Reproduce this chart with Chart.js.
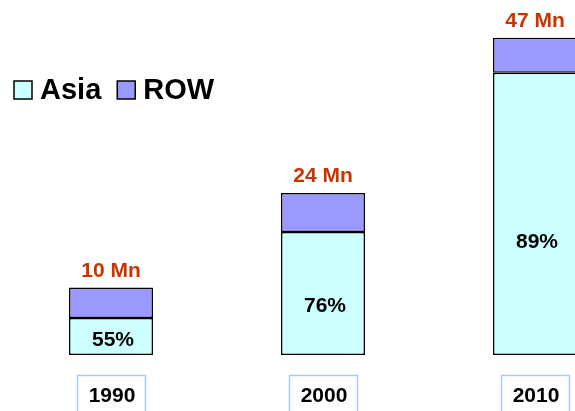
<!DOCTYPE html>
<html>
<head>
<meta charset="utf-8">
<script src="https://cdn.jsdelivr.net/npm/chart.js@4/dist/chart.umd.min.js"></script>
<style>
  html, body { margin: 0; padding: 0; background: #fff; overflow: hidden; }
  #wrap { width: 575px; height: 411px; overflow: hidden; position: relative; }
  canvas { display: block; }
</style>
</head>
<body>
<div id="wrap"><canvas id="c" width="646" height="411"></canvas></div>
<script>
// Installed base (millions) and Asia's share per decade
const years = ['1990', '2000', '2010'];
const totals = [10, 24, 47];
const asiaShare = [55, 76, 89];
const totalLabels = ['10 Mn', '24 Mn', '47 Mn'];
const shareLabels = ['55%', '76%', '89%'];
const seriesNames = ['Asia', 'ROW'];

const asiaValues = totals.map((t, i) => t * asiaShare[i] / 100);
const rowValues = totals.map((t, i) => t - asiaValues[i]);

const FONT = '"Liberation Sans", Arial, sans-serif';

const annotate = {
  id: 'annotate',
  afterDatasetsDraw(chart) {
    const ctx = chart.ctx;
    const xs = chart.scales.x, ys = chart.scales.y;
    ctx.save();
    years.forEach((yr, i) => {
      const cx = xs.getPixelForValue(i);
      const base = ys.getPixelForValue(0);
      const asiaTop = ys.getPixelForValue(asiaValues[i]);
      const top = ys.getPixelForValue(totals[i]);

      // total above each bar
      ctx.fillStyle = '#CC3300';
      ctx.font = 'bold 21px ' + FONT;
      ctx.textAlign = 'center';
      ctx.textBaseline = 'bottom';
      ctx.fillText(totalLabels[i], cx, top - 6);

      // Asia share inside lower segment
      ctx.fillStyle = '#000';
      ctx.textBaseline = 'middle';
      ctx.fillText(shareLabels[i], cx + 2, asiaTop + (base - asiaTop) * 0.6);

      // year in a framed box under the bar
      const bw = 68, bh = 40, by = 375;
      ctx.strokeStyle = '#A9CDF2';
      ctx.lineWidth = 1.5;
      ctx.fillStyle = '#fff';
      ctx.fillRect(cx - bw / 2, by, bw, bh);
      ctx.strokeRect(cx - bw / 2 + 0.5, by + 0.5, bw, bh);
      ctx.fillStyle = '#000';
      ctx.fillText(yr, cx + 1, by + 21);
    });

    // legend
    const colors = chart.data.datasets.map(d => d.backgroundColor);
    let lx = 14;
    const ly = 81;
    ctx.font = 'bold 29px ' + FONT;
    ctx.textAlign = 'left';
    ctx.textBaseline = 'middle';
    seriesNames.forEach((name, k) => {
      ctx.fillStyle = colors[k];
      ctx.fillRect(lx, ly, 18, 18);
      ctx.strokeStyle = '#000';
      ctx.lineWidth = 1.5;
      ctx.strokeRect(lx, ly, 18, 18);
      ctx.fillStyle = '#000';
      ctx.fillText(name, lx + 26, ly + 10);
      lx += 26 + ctx.measureText(name).width + 16;
    });
    ctx.restore();
  }
};

new Chart(document.getElementById('c'), {
  type: 'bar',
  data: {
    labels: years,
    datasets: [
      { label: seriesNames[0], data: asiaValues, backgroundColor: '#CCFFFF',
        borderColor: '#000', borderWidth: 1.5, borderSkipped: false },
      { label: seriesNames[1], data: rowValues, backgroundColor: '#9999FF',
        borderColor: '#000', borderWidth: 1.5, borderSkipped: false }
    ]
  },
  options: {
    responsive: false,
    animation: false,
    devicePixelRatio: 1,
    layout: { padding: { left: 5, right: 5, top: 0, bottom: 56 } },
    datasets: { bar: { categoryPercentage: 1, barPercentage: 0.396 } },
    scales: {
      x: { stacked: true, display: false, offset: true },
      y: { stacked: true, display: false, min: 0, max: 52.6 }
    },
    plugins: { legend: { display: false }, tooltip: { enabled: false } }
  },
  plugins: [annotate]
});
</script>
</body>
</html>
